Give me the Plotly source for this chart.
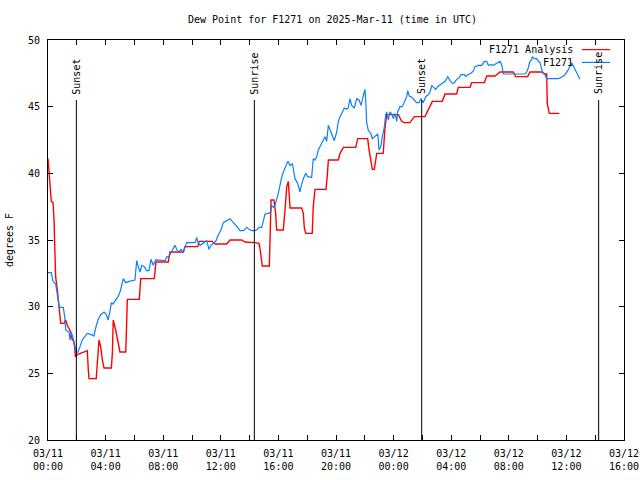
import pandas as pd
import plotly.graph_objects as go

BASE = pd.Timestamp("2025-03-11 00:00")

# Observed dew point (F1271), hours since 2025-03-11 00:00 UTC
obs_hours = [0.00, 0.23, 0.35, 0.53, 0.60, 0.69, 0.78, 1.06, 1.16, 1.23, 1.46, 1.53, 1.62, 1.72, 1.81, 1.85, 1.92, 1.99,
             2.08, 2.22, 2.38, 2.55, 2.73, 3.01, 3.19, 3.31, 3.47, 3.66, 3.89, 4.05, 4.17, 4.28, 4.40, 4.51, 4.70, 4.86,
             5.00, 5.16, 5.23, 5.40, 5.63, 6.04, 6.16, 6.27, 6.39, 6.51, 6.69, 6.85, 7.01, 7.15, 7.31, 7.48, 7.90, 8.13,
             8.26, 8.40, 8.54, 8.66, 8.82, 8.96, 9.05, 9.24, 9.40, 9.63, 10.21, 10.33, 10.40, 10.56, 10.78, 11.02, 11.18,
             11.32, 11.48, 11.65, 11.83, 12.01, 12.17, 12.34, 12.48, 12.64, 12.80, 12.99, 13.17, 13.33, 13.56, 13.68,
             13.80, 13.96, 14.15, 14.33, 14.49, 14.65, 14.84, 14.95, 15.07, 15.30, 15.47, 15.53, 15.65, 15.76, 15.88,
             15.99, 16.11, 16.27, 16.46, 16.66, 16.81, 16.97, 17.03, 17.15, 17.34, 17.50, 17.57, 17.73, 17.90, 18.03,
             18.31, 18.42, 18.54, 18.66, 18.77, 18.96, 19.12, 19.24, 19.35, 19.47, 19.58, 19.74, 19.88, 20.05, 20.16,
             20.28, 20.44, 20.58, 20.74, 20.85, 20.97, 21.09, 21.27, 21.44, 21.60, 21.74, 21.85, 21.94, 22.01, 22.06,
             22.13, 22.24, 22.43, 22.52, 22.71, 22.90, 22.99, 23.13, 23.22, 23.35, 23.45, 23.52, 23.63, 23.75, 23.87,
             23.98, 24.10, 24.22, 24.28, 24.44, 24.60, 24.74, 24.91, 24.98, 25.09, 25.26, 25.44, 25.60, 25.76, 25.90,
             26.06, 26.23, 26.41, 26.53, 26.65, 26.81, 26.92, 27.06, 27.22, 27.38, 27.57, 27.76, 27.92, 28.08, 28.22,
             28.38, 28.54, 28.68, 28.91, 29.01, 29.15, 29.38, 29.55, 29.65, 29.88, 30.12, 30.30, 30.47, 30.58, 30.76,
             30.92, 31.09, 31.27, 31.39, 31.51, 31.62, 32.43, 33.13, 33.24, 33.35, 33.47, 33.59, 33.63, 33.77, 33.94,
             34.05, 34.17, 34.28, 34.40, 34.51, 34.63, 35.44, 35.67, 35.90, 36.09, 36.25, 36.37, 36.48, 36.63, 36.77,
             36.94]
obs_dewpt = [32.55, 32.55, 31.9, 31.7, 31.25, 30.4, 29.95, 29.95, 29.25, 28.25, 28.1, 27.5, 28.05, 27.75, 27.25, 27.0,
             26.75, 26.55, 26.6, 27.0, 27.5, 27.75, 28.0, 27.9, 27.8, 28.4, 29.0, 29.4, 29.6, 29.4, 29.0, 29.5, 30.3,
             30.2, 30.5, 30.75, 31.1, 31.75, 32.1, 31.8, 31.9, 32.0, 33.45, 33.0, 32.6, 33.1, 33.0, 32.7, 32.7, 33.55,
             33.1, 33.5, 33.5, 33.45, 33.75, 33.75, 34.05, 34.25, 34.6, 34.25, 34.1, 34.3, 34.1, 34.8, 34.8, 35.2,
             34.85, 34.6, 34.8, 34.95, 34.3, 34.6, 34.75, 34.9, 35.4, 35.75, 36.3, 36.4, 36.5, 36.6, 36.4, 36.2,
             35.95, 35.7, 35.7, 35.8, 35.95, 35.8, 35.7, 35.7, 35.75, 35.95, 35.95, 36.4, 36.95, 37.0, 37.1, 37.6,
             37.45, 37.55, 38.0, 38.5, 39.1, 39.9, 40.4, 40.9, 40.6, 40.7, 40.4, 39.6, 39.25, 38.6, 39.0, 39.6, 40.0,
             39.75, 39.7, 41.1, 41.0, 41.25, 41.75, 42.1, 42.5, 42.75, 42.4, 43.6, 43.25, 42.9, 42.45, 43.1, 43.9,
             44.25, 44.6, 44.9, 44.8, 44.9, 45.6, 45.1, 44.9, 45.6, 45.5, 45.1, 45.6, 46.0, 46.3, 45.6, 43.8, 43.25,
             42.95, 42.6, 42.8, 42.95, 41.75, 42.1, 42.8, 43.4, 44.4, 44.6, 44.0, 44.6, 44.45, 44.1, 44.5, 43.9, 44.6,
             45.0, 45.0, 45.4, 45.75, 46.2, 45.8, 45.7, 45.5, 45.3, 45.3, 45.6, 45.3, 45.75, 45.9, 46.1, 46.6, 46.4,
             46.3, 46.5, 46.6, 46.75, 46.9, 47.25, 46.95, 46.75, 46.8, 47.05, 47.15, 47.4, 47.4, 47.25, 47.4, 47.5,
             47.7, 48.0, 48.1, 48.1, 48.4, 48.4, 48.1, 48.15, 48.1, 48.2, 48.3, 48.4, 48.15, 47.45, 47.45, 47.45, 47.6,
             47.9, 48.4, 48.5, 48.75, 48.6, 48.6, 48.4, 48.3, 47.8, 47.5, 47.4, 47.1, 47.1, 47.2, 47.4, 47.7, 48.1,
             48.3, 48.05, 47.75, 47.45, 47.05]

# Analysis dew point (F1271 Analysis)
ana_hours = [0.00, 0.07, 0.14, 0.23, 0.35, 0.42, 0.47, 0.53, 0.65, 0.76, 0.83, 0.88, 1.11, 1.23, 1.34, 1.58, 1.69, 1.76,
             1.85, 1.90, 2.03, 2.73, 2.80, 2.85, 3.35, 3.42, 3.54, 3.66, 3.77, 3.89, 4.40, 4.47, 4.53, 4.70, 4.86, 5.00,
             5.40, 5.47, 5.51, 6.34, 6.44, 7.38, 7.50, 8.35, 8.47, 9.40, 9.51, 10.40, 10.49, 11.41, 11.60, 12.41, 12.64,
             13.45, 13.68, 14.38, 14.65, 14.72, 14.79, 14.88, 15.37, 15.42, 15.49, 15.69, 15.81, 15.88, 16.34, 16.46,
             16.58, 16.69, 16.81, 17.62, 17.73, 17.80, 17.90, 18.35, 18.42, 18.54, 19.31, 19.40, 19.47, 20.16, 20.28,
             20.51, 21.37, 21.51, 22.20, 22.29, 22.43, 22.52, 22.66, 22.83, 23.28, 23.40, 23.52, 24.33, 24.56, 24.74,
             25.14, 25.44, 26.18, 26.69, 27.38, 27.57, 28.38, 28.49, 29.31, 29.42, 30.30, 30.47, 31.04, 31.27, 31.39,
             32.31, 32.48, 33.31, 33.47, 34.28, 34.51, 34.63, 34.67, 34.81, 35.51]
ana_dewpt = [41.1, 40.0, 39.0, 37.9, 37.8, 36.5, 34.5, 32.25, 31.25, 30.0, 29.25, 28.75, 28.75, 29.0, 28.6, 28.1, 27.5,
             27.5, 27.0, 26.25, 26.4, 26.7, 25.25, 24.6, 24.6, 25.75, 27.5, 27.0, 26.0, 25.4, 25.4, 26.5, 29.0, 28.25,
             27.25, 26.6, 26.6, 28.75, 30.55, 30.55, 32.1, 32.1, 33.35, 33.35, 34.1, 34.1, 34.5, 34.5, 34.9, 34.9,
             34.7, 34.7, 35.0, 35.0, 34.85, 34.8, 34.75, 34.4, 33.75, 33.05, 33.05, 35.5, 38.0, 38.0, 37.0, 35.75,
             35.75, 37.25, 39.0, 39.4, 37.4, 37.4, 37.0, 35.9, 35.5, 35.5, 37.5, 38.8, 38.8, 39.9, 41.0, 41.0, 41.5,
             41.95, 41.95, 42.6, 42.6, 41.8, 41.0, 40.3, 40.3, 41.5, 41.5, 43.4, 44.4, 44.4, 43.9, 43.8, 43.8, 44.25,
             44.25, 45.4, 45.4, 45.95, 45.95, 46.45, 46.45, 46.8, 46.8, 47.3, 47.3, 47.5, 47.6, 47.6, 47.25, 47.25,
             47.6, 47.6, 47.45, 47.45, 45.25, 44.5, 44.5]

sun_event_hours = [1.97, 14.33, 25.95, 38.24]
sun_event_labels = ["Sunset", "Sunrise", "Sunset", "Sunrise"]

tick_hours = list(range(0, 41, 2))
y_ticks = [20, 25, 30, 35, 40, 45, 50]

series_names = ["F1271 Analysis", "F1271"]
series_colors = ["#ff0000", "#0a80ff"]

FONT = "DejaVu Sans Mono"


def to_time(hours):
    return BASE + pd.to_timedelta(pd.Series(hours), unit="h")


fig = go.Figure()
fig.add_trace(go.Scatter(x=to_time(ana_hours), y=ana_dewpt, mode="lines", name=series_names[0],
                         line=dict(color=series_colors[0], width=1.4), showlegend=False))
fig.add_trace(go.Scatter(x=to_time(obs_hours), y=obs_dewpt, mode="lines", name=series_names[1],
                         line=dict(color=series_colors[1], width=1.2), showlegend=False))

for h, lab in zip(sun_event_hours, sun_event_labels):
    t = BASE + pd.Timedelta(hours=h)
    fig.add_shape(type="line", x0=t, x1=t, y0=20, y1=45.5, xref="x", yref="y",
                  line=dict(color="black", width=1))
    fig.add_annotation(x=t, y=45.85, xref="x", yref="y", text=lab, textangle=-90, showarrow=False,
                       xanchor="center", yanchor="bottom", font=dict(family=FONT, size=10, color="black"),
                       borderpad=0)

# manual gnuplot-style key (text left, sample line right)
key_y = [0.976, 0.944]
for name, col, ky in zip(series_names, series_colors, key_y):
    fig.add_annotation(x=0.913, y=ky, xref="paper", yref="paper", text=name, showarrow=False,
                       xanchor="right", yanchor="middle", font=dict(family=FONT, size=10, color="black"),
                       borderpad=0)
    fig.add_shape(type="line", x0=0.927, x1=0.976, y0=ky, y1=ky, xref="paper", yref="paper",
                  line=dict(color=col, width=1.2))

tick_vals = [BASE + pd.Timedelta(hours=h) for h in tick_hours]
tick_text = [(BASE + pd.Timedelta(hours=h)).strftime("%m/%d<br>%H:%M") if h % 4 == 0 else "" for h in tick_hours]

fig.update_layout(
    width=640, height=480,
    margin=dict(l=48, r=16, t=40, b=40, autoexpand=False),
    paper_bgcolor="white", plot_bgcolor="white",
    font=dict(family=FONT, size=10, color="black"),
    title=dict(text="Dew Point for F1271 on 2025-Mar-11 (time in UTC)", x=0.5195, xref="container",
               xanchor="center", y=0.960, yref="container", yanchor="middle",
               font=dict(family=FONT, size=10, color="black")),
    xaxis=dict(range=[BASE, BASE + pd.Timedelta(hours=40)], tickvals=tick_vals, ticktext=tick_text,
               ticks="inside", ticklen=5, tickcolor="black", showline=True, linecolor="black", linewidth=1,
               mirror="ticks", showgrid=False, zeroline=False, tickangle=0, automargin=False,
               ticklabelstandoff=4,
               tickfont=dict(family=FONT, size=10, color="black")),
    yaxis=dict(range=[20, 50], tickvals=y_ticks, ticks="inside", ticklen=5, tickcolor="black",
               showline=True, linecolor="black", linewidth=1, mirror="ticks", showgrid=False, zeroline=False,
               ticklabelstandoff=5, automargin=False,
               title=dict(text="degrees F", standoff=12, font=dict(family=FONT, size=10, color="black")),
               tickfont=dict(family=FONT, size=10, color="black")),
)

fig.write_html("out.html", config={"displayModeBar": False},
               post_script="document.body.style.margin='0';")
